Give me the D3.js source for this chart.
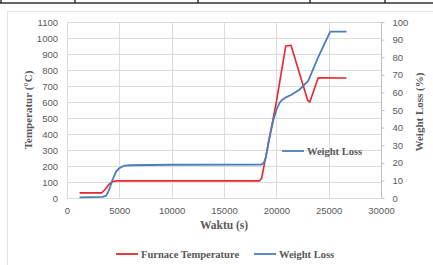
<!DOCTYPE html>
<html><head><meta charset="utf-8">
<script src="https://cdn.jsdelivr.net/npm/d3@7"></script>
<style>body{margin:0;background:#fff}svg{display:block}</style>
</head><body>
<svg id="c" width="433" height="265"></svg>
<script>
const xTicks = [0,5000,10000,15000,20000,25000,30000];
const yLeftTicks = [0,100,200,300,400,500,600,700,800,900,1000,1100];
const yRightTicks = [0,10,20,30,40,50,60,70,80,90,100];

const tempTime = [1200,3300,3600,4000,4400,4700,18400,18600,19000,20000,20900,21400,23000,23200,24000,26700];
const tempVal  = [32,32,50,85,103,107,107,125,260,600,950,955,610,600,752,750];

const wlTime = [1200,3400,3700,3900,4100,4300,4500,4700,5000,5400,6000,10000,18600,18800,19000,19300,19700,20000,20300,20600,21000,21400,22200,23050,24000,25150,26700];
const wlVal  = [0.4,0.6,1.2,3,6,9.5,12.5,15,17,18.2,18.6,18.9,19,20,23,33,44,50,54,56,57.5,58.5,61.5,66.5,80,94.5,94.5];

const svg = d3.select("#c");
const L=67, R=381, T=22, B=198;
const x = d3.scaleLinear().domain([0,30000]).range([L,R]);
const yL = d3.scaleLinear().domain([0,1100]).range([B,T]);
const yR = d3.scaleLinear().domain([0,100]).range([B,T]);

// top table border
svg.append("line").attr("x1",0).attr("x2",433).attr("y1",3).attr("y2",3).attr("stroke","#333").attr("stroke-width",1.5);
[1,75,198,310,385].forEach(v=>svg.append("line").attr("x1",v).attr("x2",v).attr("y1",0).attr("y2",3).attr("stroke","#333").attr("stroke-width",1.5));
// chart frame
svg.append("rect").attr("x",7.5).attr("y",11.5).attr("width",440).attr("height",270).attr("fill","none").attr("stroke","#e3e3e3");

// gridlines
svg.append("g").selectAll("line").data(yLeftTicks).join("line")
  .attr("x1",L).attr("x2",R).attr("y1",d=>Math.round(yL(d))+0.5).attr("y2",d=>Math.round(yL(d))+0.5)
  .attr("stroke","#dcdcdc");
svg.append("g").selectAll("line").data(xTicks).join("line")
  .attr("y1",T).attr("y2",B).attr("x1",d=>Math.round(x(d))+0.5).attr("x2",d=>Math.round(x(d))+0.5)
  .attr("stroke","#dcdcdc");

// axes
const font = "Liberation Sans, Arial, sans-serif";
const ax = svg.append("g").attr("transform",`translate(0,${B})`).call(d3.axisBottom(x).tickValues(xTicks).tickSize(0).tickPadding(9).tickFormat(d3.format("d")));
const ayl = svg.append("g").attr("transform",`translate(${L},0)`).call(d3.axisLeft(yL).tickValues(yLeftTicks).tickSize(0).tickPadding(9).tickFormat(d3.format("d")));
const ayr = svg.append("g").attr("transform",`translate(${Math.round(R)+0.5},0)`).call(d3.axisRight(yR).tickValues(yRightTicks).tickSize(3).tickPadding(8).tickFormat(d3.format("d")));
[ax,ayl,ayr].forEach(g=>{
  g.selectAll("text").attr("fill","#595959").style("font-family",font).style("font-size","9.5px");
  g.select(".domain").remove();
  g.selectAll(".tick line").attr("stroke","#bfbfbf");
});
svg.append("line").attr("x1",Math.round(R)+0.5).attr("x2",Math.round(R)+0.5).attr("y1",T).attr("y2",B).attr("stroke","#bfbfbf");

// lines
const lineT = d3.line().x((d,i)=>x(tempTime[i])).y(d=>yL(d));
const lineW = d3.line().x((d,i)=>x(wlTime[i])).y(d=>yR(d));
svg.append("path").attr("d",lineT(tempVal)).attr("fill","none").attr("stroke","#e8262b").attr("stroke-width",1.6).attr("stroke-linejoin","round");
svg.append("path").attr("d",lineW(wlVal)).attr("fill","none").attr("stroke","#4a7ebb").attr("stroke-width",1.8).attr("stroke-linejoin","round");

// titles
const serif = "Liberation Serif, 'Times New Roman', serif";
svg.append("text").attr("transform","translate(32,110) rotate(-90)").attr("text-anchor","middle")
  .style("font-family",serif).style("font-weight","bold").style("font-size","11px").attr("fill","#595959").text("Temperatur (°C)");
svg.append("text").attr("transform","translate(423,112) rotate(-90)").attr("text-anchor","middle")
  .style("font-family",serif).style("font-weight","bold").style("font-size","11px").attr("fill","#595959").text("Weight Loss (%)");
svg.append("text").attr("x",224).attr("y",229).attr("text-anchor","middle")
  .style("font-family",serif).style("font-weight","bold").style("font-size","11.5px").attr("fill","#595959").text("Waktu (s)");

// legends
function leg(x1,y,color,label){
  svg.append("line").attr("x1",x1).attr("x2",x1+22).attr("y1",y).attr("y2",y).attr("stroke",color).attr("stroke-width",1.8);
  svg.append("text").attr("x",x1+25).attr("y",y+3.5).style("font-family",serif).style("font-weight","bold").style("font-size","10.5px").attr("fill","#595959").text(label);
}
leg(116,254,"#e8262b","Furnace Temperature");
leg(254,254,"#4a7ebb","Weight Loss");
leg(282,151,"#4a7ebb","Weight Loss");
</script>
</body></html>
